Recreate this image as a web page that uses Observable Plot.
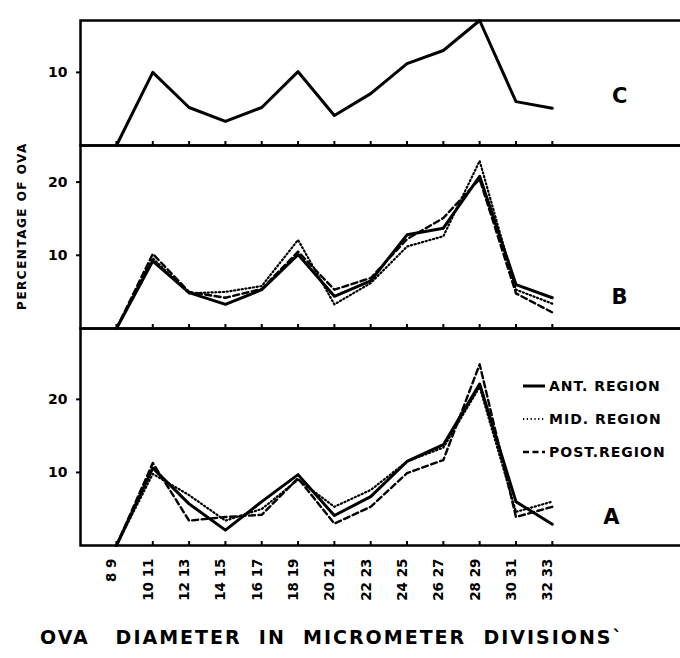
<!DOCTYPE html>
<html><head><meta charset="utf-8">
<script src="https://cdn.jsdelivr.net/npm/d3@7"></script>
<script src="https://cdn.jsdelivr.net/npm/@observablehq/plot@0.6"></script>
<style>
body{margin:0;background:#fff;}
#wrap{position:relative;width:680px;height:658px;overflow:hidden;font-family:"DejaVu Sans",sans-serif;font-weight:bold;color:#000;background:#fff;}
.panel{position:absolute;left:0;}
.panel svg{overflow:visible;max-width:none !important;height:auto;}
#ylab{position:absolute;left:22px;top:226px;transform:translate(-50%,-50%) rotate(-90deg);font-size:12px;letter-spacing:1.5px;white-space:nowrap;}
#xtitle{position:absolute;left:40px;top:626px;font-size:19px;letter-spacing:2px;white-space:pre;}
#legend{position:absolute;left:522px;top:369px;font-size:14px;letter-spacing:1px;}
#legend .row{display:flex;align-items:center;height:33px;}
#legend svg{margin-right:3px;}
</style></head><body><div id="wrap"></div>
<script>
const categories = ["8 9","10 11","12 13","14 15","16 17","18 19","20 21","22 23","24 25","26 27","28 29","30 31","32 33"];
const regions = ["ANT. REGION","MID. REGION","POST.REGION"];

const panelC = [0, 10, 5.2, 3.3, 5.2, 10.1, 4.1, 7.1, 11.2, 13, 17.1, 6, 5.1];

const panelB_ant  = [0, 9.2, 4.9, 3.3, 5.3, 10.1, 4.4, 6.5, 12.8, 13.7, 20.8, 6.0, 4.2];
const panelB_mid  = [0, 9.6, 4.8, 5.0, 5.8, 12.1, 3.3, 6.2, 11.2, 12.6, 22.9, 5.3, 3.4];
const panelB_post = [0, 10.2, 5.0, 4.2, 5.4, 10.5, 5.3, 6.9, 12.2, 15.1, 20.4, 4.8, 2.2];

const panelA_ant  = [0, 10.6, 5.7, 2.1, 6.0, 9.7, 4.1, 6.7, 11.5, 13.8, 22.1, 6.0, 2.9];
const panelA_mid  = [0, 9.8, 6.9, 3.4, 5.0, 9.0, 5.3, 7.6, 11.5, 13.4, 21.7, 4.6, 6.0];
const panelA_post = [0, 11.3, 3.4, 3.9, 4.2, 9.2, 3.0, 5.3, 9.9, 11.7, 24.8, 3.9, 5.3];

const yTicksC = [10];
const yTicksAB = [10, 20];

const styles = {
  "ANT. REGION": {strokeWidth: 3, strokeDasharray: null},
  "MID. REGION": {strokeWidth: 2.2, strokeDasharray: "1.2,2.6"},
  "POST.REGION": {strokeWidth: 2.4, strokeDasharray: "6,3.5"}
};

const wrap = document.getElementById("wrap");

function rows(values, region) {
  return values.map((v, i) => ({i, cat: categories[i], v, region}));
}

function panel({top, height, marginTop, marginBottom, yMax, yTicks, series, letter, letterDx, letterDy, labels}) {
  const marks = [
    Plot.frame({stroke: "black", strokeWidth: 2.5}),
    Plot.axisY({ticks: yTicks, tickSize: 4, tickPadding: 9, fontSize: 14, fontWeight: "bold", label: null, strokeWidth: 2}),
    Plot.axisX({ticks: d3.range(categories.length), tickSize: -4, tickFormat: () => "", label: null, strokeWidth: 2}),
  ];
  for (const s of series) {
    const st = styles[s.region] || {strokeWidth: 3, strokeDasharray: null};
    marks.push(Plot.line(rows(s.values, s.region), {x: "i", y: "v", stroke: "black", strokeWidth: st.strokeWidth, strokeDasharray: st.strokeDasharray, strokeLinejoin: "round", strokeLinecap: "round"}));
  }
  marks.push(Plot.text([letter], {frameAnchor: "bottom-right", dx: letterDx, dy: letterDy, fontSize: 21, fontWeight: "bold", fill: "black"}));
  if (labels) {
    marks.push(Plot.text(categories, {x: (d, i) => i, frameAnchor: "bottom", dy: 13, rotate: -90, textAnchor: "end", fontSize: 13.5, fontWeight: "bold", fill: "black"}));
  }
  const chart = Plot.plot({
    width: 692, height, marginTop, marginBottom, marginLeft: 80, marginRight: 0,
    style: {fontFamily: "DejaVu Sans, sans-serif", background: "transparent", color: "black", maxWidth: "none"},
    x: {type: "linear", domain: [-0.99, 15.86], axis: null},
    y: {domain: [0, yMax], axis: null},
    marks
  });
  const div = document.createElement("div");
  div.className = "panel";
  div.style.top = top + "px";
  div.appendChild(chart);
  wrap.appendChild(div);
}

panel({top: 0, height: 145, marginTop: 20, marginBottom: 0, yMax: 17.1, yTicks: yTicksC,
  series: [{region: "C", values: panelC}], letter: "C", letterDx: -65, letterDy: -43});
panel({top: 145, height: 183, marginTop: 0, marginBottom: 0, yMax: 25, yTicks: yTicksAB,
  series: [{region: regions[0], values: panelB_ant}, {region: regions[1], values: panelB_mid}, {region: regions[2], values: panelB_post}],
  letter: "B", letterDx: -65, letterDy: -25});
panel({top: 328, height: 330, marginTop: 0, marginBottom: 113, yMax: 29.7, yTicks: yTicksAB,
  series: [{region: regions[0], values: panelA_ant}, {region: regions[1], values: panelA_mid}, {region: regions[2], values: panelA_post}],
  letter: "A", letterDx: -73, letterDy: -22, labels: true});

const ylab = document.createElement("div");
ylab.id = "ylab"; ylab.textContent = "PERCENTAGE OF OVA";
wrap.appendChild(ylab);

const xt = document.createElement("div");
xt.id = "xtitle"; xt.textContent = "OVA   DIAMETER  IN  MICROMETER  DIVISIONS`";
wrap.appendChild(xt);

const leg = document.createElement("div");
leg.id = "legend";
for (const r of regions) {
  const row = document.createElement("div");
  row.className = "row";
  const st = styles[r];
  row.innerHTML = `<svg width="24" height="10"><line x1="1" x2="23" y1="5" y2="5" stroke="black" stroke-width="${st.strokeWidth}" ${st.strokeDasharray ? `stroke-dasharray="${st.strokeDasharray}"` : ""}/></svg><span>${r}</span>`;
  leg.appendChild(row);
}
wrap.appendChild(leg);
</script></body></html>
